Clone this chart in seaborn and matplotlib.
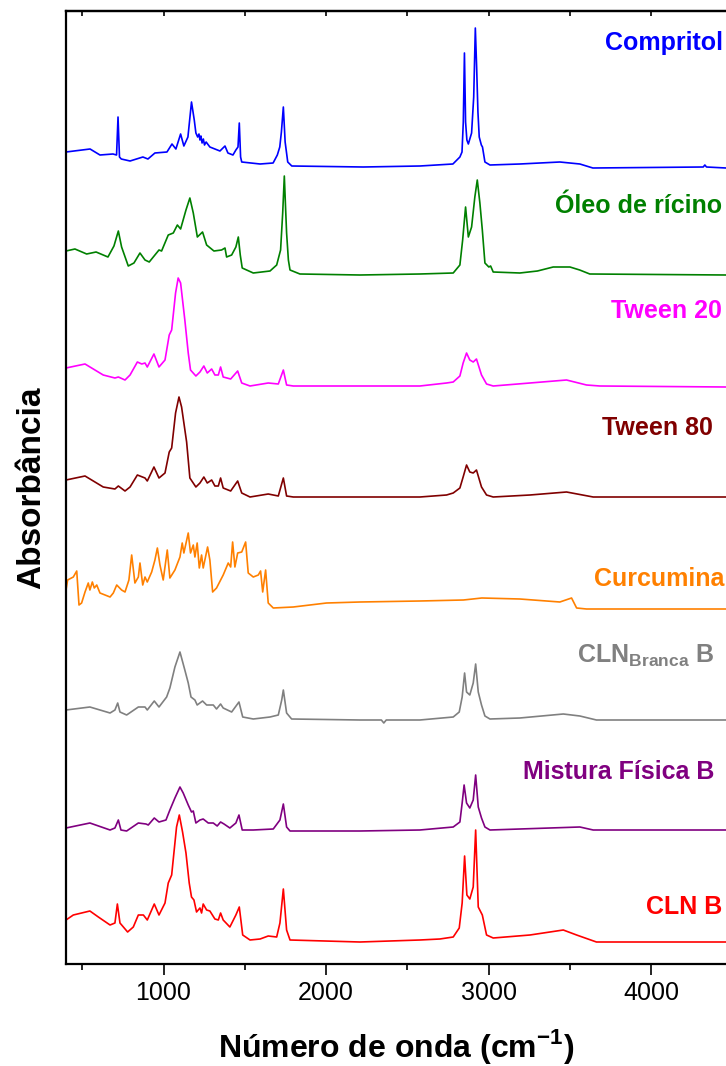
import matplotlib
matplotlib.use("Agg")
import matplotlib.pyplot as plt
from matplotlib.ticker import MultipleLocator
import seaborn as sns
import pandas as pd

# FTIR spectra: (wavenumber cm-1, absorbance above own baseline, a.u.)
compritol = [(400, 15), (548, 18), (609, 12), (689, 13), (711, 12), (720, 50), (729, 10), (740, 8), (794, 6),
             (873, 10), (904, 8), (947, 14), (1021, 15), (1052, 23), (1076, 18), (1105, 33), (1125, 21), (1150, 30),
             (1172, 65), (1189, 47), (1199, 34), (1210, 30), (1218, 33), (1224, 27), (1230, 31), (1237, 24),
             (1245, 28), (1252, 22), (1262, 25), (1285, 20), (1347, 16), (1378, 21), (1396, 14), (1427, 12),
             (1445, 17), (1458, 20), (1466, 44), (1474, 10), (1481, 5), (1594, 3), (1674, 4), (1700, 12),
             (1715, 20), (1725, 35), (1737, 60), (1748, 25), (1764, 5), (1789, 1), (2228, 0), (2577, 1), (2780, 3),
             (2823, 10), (2836, 15), (2844, 45), (2851, 114), (2858, 45), (2866, 27), (2875, 23), (2895, 34),
             (2908, 70), (2918, 139), (2926, 100), (2934, 55), (2942, 30), (2955, 22), (2962, 20), (2977, 5),
             (3008, 2), (3192, 3), (3438, 5), (3561, 3), (3641, -1), (4320, 0), (4330, 2), (4340, 0), (4460, -1)]

oleo_ricino = [(400, 24), (455, 26), (527, 21), (585, 23), (658, 18), (695, 29), (722, 44), (742, 28), (783, 9),
               (818, 12), (855, 22), (886, 15), (912, 13), (937, 18), (972, 25), (988, 24), (1029, 40), (1060, 42),
               (1085, 50), (1105, 46), (1138, 65), (1162, 77), (1183, 62), (1208, 38), (1240, 43), (1265, 30),
               (1310, 24), (1357, 25), (1378, 27), (1388, 18), (1419, 20), (1445, 28), (1460, 38), (1472, 20),
               (1484, 7), (1552, 2), (1655, 4), (1696, 10), (1720, 25), (1733, 62), (1743, 99), (1750, 70),
               (1757, 42), (1768, 15), (1778, 5), (1839, 1), (2208, 0), (2577, 1), (2782, 2), (2823, 10), (2840, 35),
               (2858, 68), (2875, 38), (2895, 48), (2915, 78), (2930, 95), (2946, 72), (2961, 45), (2977, 12),
               (3001, 8), (3012, 9), (3028, 3), (3192, 2), (3300, 4), (3397, 8), (3500, 8), (3560, 5), (3622, 1),
               (4460, 0)]

tween20 = [(400, 18), (517, 22), (629, 11), (701, 8), (722, 9), (763, 6), (794, 11), (839, 24), (866, 22), (886, 23),
           (900, 19), (941, 32), (972, 19), (1009, 26), (1035, 51), (1050, 56), (1074, 93), (1090, 108), (1105, 103),
           (1131, 66), (1152, 33), (1166, 16), (1199, 10), (1224, 14), (1248, 20), (1269, 13), (1296, 17), (1316, 11),
           (1337, 11), (1351, 19), (1367, 9), (1413, 7), (1456, 15), (1481, 3), (1532, 0), (1644, 3), (1706, 2),
           (1737, 16), (1757, 1), (1798, 0), (2208, 0), (2577, 0), (2741, 3), (2782, 4), (2823, 10), (2843, 23),
           (2864, 33), (2884, 26), (2905, 24), (2925, 27), (2956, 11), (2987, 2), (3028, 0), (3254, 3), (3479, 6),
           (3602, 1), (3684, 0), (4460, -1)]

tween80 = [(400, 17), (517, 21), (629, 10), (701, 8), (722, 11), (763, 6), (794, 10), (839, 22), (886, 19), (900, 16),
           (941, 30), (972, 19), (1009, 24), (1035, 45), (1050, 49), (1074, 84), (1095, 100), (1111, 90), (1142, 55),
           (1162, 19), (1199, 10), (1224, 14), (1248, 20), (1269, 14), (1296, 17), (1316, 11), (1337, 11), (1351, 19),
           (1367, 9), (1413, 6), (1456, 16), (1481, 4), (1532, 0), (1644, 3), (1706, 1), (1737, 19), (1757, 1),
           (1798, 0), (2208, 0), (2577, 0), (2741, 2), (2782, 4), (2823, 9), (2843, 20), (2864, 32), (2884, 25),
           (2905, 24), (2925, 27), (2956, 10), (2987, 2), (3028, 0), (3254, 2), (3479, 5), (3643, 0), (4460, 0)]

curcumina = [(400, 19), (410, 29), (445, 32), (466, 38), (480, 4), (496, 6), (517, 17), (537, 26), (547, 19),
             (562, 27), (574, 21), (589, 24), (609, 16), (671, 12), (691, 16), (712, 24), (742, 19), (763, 17),
             (787, 29), (804, 54), (824, 26), (845, 32), (855, 46), (872, 24), (886, 32), (900, 27), (927, 37),
             (947, 49), (962, 61), (978, 44), (998, 29), (1023, 59), (1039, 31), (1070, 39), (1101, 52), (1115, 66),
             (1125, 56), (1152, 76), (1166, 56), (1183, 64), (1193, 52), (1207, 66), (1220, 41), (1234, 54),
             (1244, 41), (1271, 62), (1285, 49), (1302, 17), (1326, 21), (1367, 34), (1398, 46), (1413, 42),
             (1425, 67), (1439, 42), (1456, 56), (1481, 57), (1505, 67), (1521, 36), (1552, 32), (1583, 34),
             (1597, 38), (1610, 17), (1628, 39), (1644, 6), (1675, 1), (1798, 2), (2003, 6), (2208, 7), (2577, 8),
             (2845, 9), (2958, 11), (3192, 10), (3438, 7), (3510, 11), (3541, 1), (3602, 0), (4460, 0)]

cln_branca = [(400, 10), (547, 13), (671, 7), (701, 10), (718, 17), (732, 8), (773, 5), (845, 13), (886, 13),
              (900, 10), (943, 19), (972, 13), (1019, 23), (1039, 32), (1070, 53), (1101, 68), (1131, 50), (1152, 37),
              (1169, 23), (1193, 20), (1207, 15), (1240, 19), (1265, 15), (1306, 15), (1326, 11), (1351, 16),
              (1367, 12), (1419, 8), (1464, 18), (1487, 3), (1552, 1), (1655, 3), (1706, 5), (1727, 20), (1737, 30),
              (1757, 7), (1788, 1), (2208, 0), (2340, 0), (2355, -3), (2370, 0), (2577, 0), (2782, 3), (2819, 8),
              (2837, 23), (2852, 47), (2864, 28), (2884, 25), (2905, 37), (2920, 56), (2936, 28), (2956, 15),
              (2977, 4), (3008, 1), (3192, 2), (3459, 6), (3561, 4), (3663, 0), (4460, 0)]

mistura_fisica = [(400, 2), (547, 7), (671, 0), (701, 2), (722, 10), (738, 0), (773, -1), (845, 7), (892, 6),
                  (906, 5), (943, 12), (972, 8), (1015, 10), (1039, 20), (1070, 32), (1101, 43), (1121, 37),
                  (1152, 25), (1172, 18), (1183, 19), (1199, 7), (1224, 10), (1244, 11), (1275, 7), (1306, 7),
                  (1330, 4), (1351, 8), (1372, 6), (1408, 2), (1445, 7), (1464, 15), (1484, 0), (1552, 0), (1675, 1),
                  (1716, 10), (1737, 26), (1757, 3), (1778, -1), (2208, -1), (2577, 0), (2782, 3), (2823, 8),
                  (2837, 27), (2849, 45), (2864, 27), (2884, 22), (2905, 30), (2920, 55), (2936, 23), (2956, 12),
                  (2977, 3), (3008, 0), (3192, 1), (3561, 3), (3643, 0), (4460, 0)]

cln_b = [(400, 21), (445, 26), (547, 30), (599, 24), (671, 16), (701, 18), (716, 37), (732, 18), (779, 9), (814, 14),
         (845, 26), (876, 26), (900, 21), (943, 37), (972, 26), (1009, 38), (1029, 58), (1050, 66), (1080, 114),
         (1097, 126), (1117, 109), (1138, 88), (1158, 58), (1172, 44), (1187, 41), (1203, 29), (1224, 33),
         (1234, 28), (1244, 37), (1265, 31), (1285, 30), (1316, 22), (1337, 21), (1351, 28), (1367, 21), (1408, 14),
         (1445, 26), (1466, 34), (1487, 6), (1532, 1), (1594, 2), (1644, 5), (1696, 4), (1716, 18), (1737, 52),
         (1757, 11), (1778, 1), (2208, -1), (2577, 1), (2700, 2), (2782, 4), (2819, 13), (2837, 38), (2852, 85),
         (2866, 46), (2884, 42), (2905, 54), (2920, 111), (2936, 34), (2961, 26), (2987, 6), (3028, 3), (3254, 6),
         (3459, 11), (3541, 6), (3663, -1), (4460, -1)]

samples = ["Compritol", "Óleo de rícino", "Tween 20", "Tween 80", "Curcumina",
           "CLN$_{\\mathrm{Branca}}$ B", "Mistura Física B", "CLN B"]
spectra = [compritol, oleo_ricino, tween20, tween80, curcumina, cln_branca, mistura_fisica, cln_b]
offsets = [797, 689, 578, 467, 355, 244, 134, 23]   # vertical stacking of the curves
colors = ["#0000FF", "#008000", "#FF00FF", "#800000", "#FF8000", "#808080", "#800080", "#FF0000"]

# label anchors (right edge wavenumber, baseline height) -- layout only
label_pos = [(4440, 914), (4434, 751), (4434, 646), (4382, 529), (4448, 378), (4392, 301), (4386, 185), (4434, 50)]

rows = []
for name, spec, off in zip(samples, spectra, offsets):
    for wn, a in spec:
        rows.append({"wn": wn, "abs": a + off, "sample": name})
df = pd.DataFrame(rows)

sns.set_style("ticks")
plt.rcParams["font.family"] = ["Liberation Sans", "DejaVu Sans"]
plt.rcParams["mathtext.fontset"] = "custom"
plt.rcParams["mathtext.rm"] = "Liberation Sans:bold"
plt.rcParams["mathtext.bf"] = "Liberation Sans:bold"
plt.rcParams.update({"text.color": "black", "axes.labelcolor": "black", "axes.edgecolor": "black",
                     "xtick.color": "black", "ytick.color": "black"})

fig = plt.figure(figsize=(7.26, 10.66), dpi=100)
ax = fig.add_axes([66 / 726, 1 - 964 / 1066, 660 / 726, 953 / 1066])

sns.lineplot(data=df, x="wn", y="abs", hue="sample", hue_order=samples,
             palette=dict(zip(samples, colors)), estimator=None, sort=False,
             legend=False, linewidth=1.2, ax=ax)

for name, col, (lx, ly) in zip(samples, colors, label_pos):
    ax.text(lx, ly, name, color=col, fontsize=18, fontweight="bold",
            ha="right", va="baseline")

ax.set_xlim(400, 4460)
ax.set_ylim(0, 953)
ax.set_yticks([])
ax.xaxis.set_major_locator(MultipleLocator(1000))
ax.xaxis.set_minor_locator(MultipleLocator(500))
ax.tick_params(axis="x", which="major", direction="out", length=8, width=1.2,
               labelsize=18, pad=4, top=False)
ax.tick_params(axis="x", which="minor", direction="out", length=4.3, width=1.2, top=False)
ax.spines["right"].set_visible(False)
for s in ["left", "bottom", "top"]:
    ax.spines[s].set_linewidth(1.6)

top = ax.secondary_xaxis("top")
top.xaxis.set_major_locator(MultipleLocator(1000))
top.xaxis.set_minor_locator(MultipleLocator(500))
top.tick_params(which="both", direction="in", length=3.5, width=1.2, labeltop=False)
top.spines["top"].set_linewidth(1.6)

ax.set_xlabel("Número de onda (cm$^{-1}$)", fontsize=23, fontweight="bold")
ax.xaxis.set_label_coords(0.5, -0.066)
ax.set_ylabel("Absorbância", fontsize=24, fontweight="bold")
ax.yaxis.set_label_coords(-0.029, 0.5)

fig.savefig("out.png", dpi=100)
